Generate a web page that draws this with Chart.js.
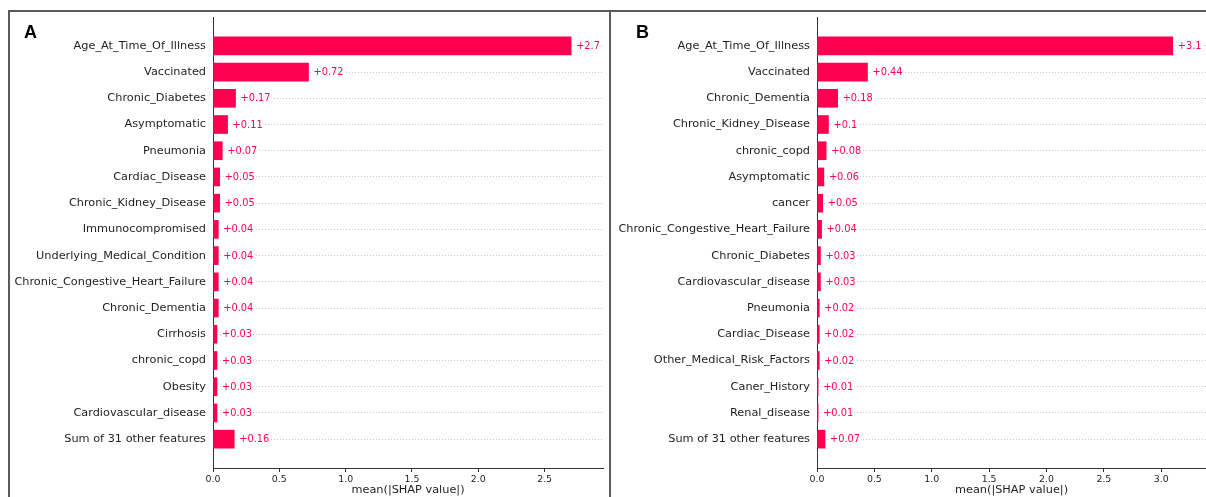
<!DOCTYPE html>
<html>
<head>
<meta charset="utf-8">
<script src="https://cdn.jsdelivr.net/npm/chart.js@4/dist/chart.umd.min.js"></script>
<style>
  body { margin: 0; width: 1206px; height: 497px; overflow: hidden; background: #fff; position: relative; }
  .frame { position: absolute; top: 10px; height: 520px; border: 2px solid #5a5a5a; box-sizing: border-box; }
  .wrap { position: absolute; top: 11px; }
  .tag { position: absolute; top: 23px; font: bold 18px "Liberation Sans", Arial, sans-serif; line-height: 1; color: #000; }
</style>
</head>
<body>
<div class="frame" style="left:8px;width:603px"></div>
<div class="frame" style="left:609px;width:700px"></div>
<div class="wrap" style="left:10px"><canvas id="chartA" width="599" height="486"></canvas></div>
<div class="wrap" style="left:611px"><canvas id="chartB" width="595" height="486"></canvas></div>
<div class="tag" style="left:24px">A</div>
<div class="tag" style="left:636px">B</div>
<script>
// mean |SHAP| per feature, top 15 + remainder
var featuresA = ['Age_At_Time_Of_Illness', 'Vaccinated', 'Chronic_Diabetes', 'Asymptomatic', 'Pneumonia',
  'Cardiac_Disease', 'Chronic_Kidney_Disease', 'Immunocompromised', 'Underlying_Medical_Condition',
  'Chronic_Congestive_Heart_Failure', 'Chronic_Dementia', 'Cirrhosis', 'chronic_copd', 'Obesity',
  'Cardiovascular_disease', 'Sum of 31 other features'];
var shapA = [2.7, 0.72, 0.17, 0.11, 0.07, 0.05, 0.05, 0.04, 0.04, 0.04, 0.04, 0.03, 0.03, 0.03, 0.03, 0.16];

var featuresB = ['Age_At_Time_Of_Illness', 'Vaccinated', 'Chronic_Dementia', 'Chronic_Kidney_Disease',
  'chronic_copd', 'Asymptomatic', 'cancer', 'Chronic_Congestive_Heart_Failure', 'Chronic_Diabetes',
  'Cardiovascular_disease', 'Pneumonia', 'Cardiac_Disease', 'Other_Medical_Risk_Factors',
  'Caner_History', 'Renal_disease', 'Sum of 31 other features'];
var shapB = [3.1, 0.44, 0.18, 0.1, 0.08, 0.06, 0.05, 0.04, 0.03, 0.03, 0.02, 0.02, 0.02, 0.01, 0.01, 0.07];

var xTicks = [0, 0.5, 1, 1.5, 2, 2.5, 3];

var RED = '#ff0051';
var INK = '#1e1e1e';

// "+value" text to the right of every bar
var valueLabels = {
  id: 'valueLabels',
  afterDatasetsDraw: function (chart) {
    var ctx = chart.ctx;
    var pts = chart.data.datasets[0].data;
    ctx.save();
    ctx.font = '9.8px "DejaVu Sans"';
    ctx.textBaseline = 'middle';
    chart.getDatasetMeta(0).data.forEach(function (bar, i) {
      var txt = '+' + pts[i].x;
      var w = ctx.measureText(txt).width;
      ctx.fillStyle = '#fff';
      ctx.fillRect(bar.x + 4, bar.y - 6, w + 2, 12);
      ctx.fillStyle = RED;
      ctx.fillText(txt, bar.x + 5, bar.y + 0.5);
    });
    ctx.restore();
  }
};

function shapBar(id, names, values, xmax, yWidth, padRight) {
  var n = names.length;
  new Chart(document.getElementById(id), {
    type: 'bar',
    data: {
      datasets: [{
        data: values.map(function (v, i) { return { x: v, y: i }; }),
        backgroundColor: RED,
        borderWidth: 0,
        barThickness: 18
      }]
    },
    options: {
      indexAxis: 'y',
      responsive: false,
      animation: false,
      layout: { padding: { top: 6, right: padRight, bottom: 0, left: 0 } },
      plugins: { legend: { display: false }, tooltip: { enabled: false } },
      scales: {
        x: {
          type: 'linear',
          min: 0,
          max: xmax,
          afterFit: function (s) { s.height = 29; s.paddingLeft = 0; s.paddingRight = 0; },
          afterBuildTicks: function (s) {
            s.ticks = xTicks.filter(function (t) { return t <= xmax; }).map(function (t) { return { value: t }; });
          },
          ticks: {
            color: INK,
            font: { family: 'DejaVu Sans', size: 9.4 },
            padding: 2,
            maxRotation: 0,
            callback: function (v) { return v.toFixed(1); }
          },
          grid: { drawOnChartArea: false, tickLength: 4, color: '#333' },
          border: { color: '#333', width: 1 },
          title: {
            display: true,
            text: 'mean(|SHAP value|)',
            color: INK,
            font: { family: 'DejaVu Sans', size: 11.3 },
            padding: { top: 0, bottom: 0 }
          }
        },
        y: {
          type: 'linear',
          reverse: true,
          offset: false,
          min: -1.1,
          max: n + 0.1,
          afterFit: function (s) { s.width = yWidth; s.paddingTop = 0; s.paddingBottom = 0; },
          afterBuildTicks: function (s) {
            s.ticks = names.map(function (_, i) { return { value: i }; });
          },
          ticks: {
            color: INK,
            autoSkip: false,
            font: { family: 'DejaVu Sans', size: 11.3 },
            padding: 7,
            callback: function (v) { return names[v]; }
          },
          grid: { offset: false, drawTicks: false, color: '#c8c8c8', lineWidth: 1 },
          border: { color: '#333', width: 1, dash: [1, 2] }
        }
      }
    },
    plugins: [valueLabels]
  });
}

shapBar('chartA', featuresA, shapA, 2.94, 203, 6);
shapBar('chartB', featuresB, shapB, 3.39, 206, 0);
</script>
</body>
</html>
